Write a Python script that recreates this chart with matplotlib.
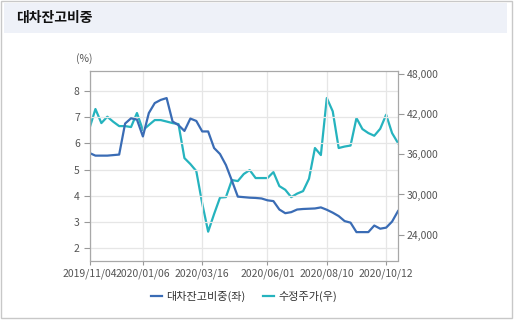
import matplotlib
matplotlib.use("Agg")
import matplotlib.pyplot as plt
import matplotlib.patches as mpatches

plt.rcParams["font.family"] = ["Noto Sans CJK KR", "DejaVu Sans"]

# weekly points, index 0 = 2019/11/04
LOAN_RATIO = [5.63, 5.53, 5.53, 5.53, 5.55, 5.57, 6.75, 6.95, 6.90, 6.26,
              7.15, 7.53, 7.65, 7.72, 6.83, 6.69, 6.47, 6.94, 6.85, 6.45,
              6.45, 5.82, 5.59, 5.17, 4.58, 3.97, 3.95, 3.93, 3.92, 3.90,
              3.83, 3.80, 3.48, 3.34, 3.38, 3.48, 3.50, 3.51, 3.52, 3.56,
              3.47, 3.36, 3.23, 3.04, 2.98, 2.62, 2.62, 2.62, 2.87, 2.75,
              2.79, 3.02, 3.42]
ADJ_PRICE = [39870, 42750, 40650, 41600, 40850, 40200, 40200, 40060, 42150, 39600,
             40360, 41100, 41100, 40880, 40650, 40500, 35430, 34540, 33490, 28660,
             24450, 27080, 29540, 29610, 32150, 32000, 33050, 33640, 32450, 32450,
             32450, 33340, 31250, 30700, 29600, 30130, 30500, 32350, 36930, 35880,
             44390, 42400, 36930, 37150, 37300, 41400, 39760, 39160, 38760, 39800,
             41900, 39160, 37670]
TICK_IDX = [0, 9, 19, 30, 40, 50]
TICK_LABELS = ["2019/11/04", "2020/01/06", "2020/03/16", "2020/06/01",
               "2020/08/10", "2020/10/12"]
LEFT_TICKS = [2, 3, 4, 5, 6, 7, 8]
RIGHT_TICKS = [24000, 30000, 36000, 42000, 48000]

BLUE = "#3a6cb5"
TEAL = "#25b3be"
GRID = "#e6e6e6"
TXT = "#555555"

W, H = 514, 322


def fx(x):
    return x / W


def fy(y):
    return 1 - y / H


fig = plt.figure(figsize=(W / 100, H / 100), dpi=100)

# outer frame and title bar
fig.add_artist(mpatches.Rectangle((fx(0.5), fy(317.5)), fx(511), 317 / H,
                                  fill=False, ec="#c8c8c8", lw=1))
fig.add_artist(mpatches.Rectangle((fx(4), fy(33)), fx(503), 30 / H,
                                  fc="#eef1f8", ec="none"))
fig.text(fx(16), fy(18), "대차잔고비중", fontsize=10, fontweight="bold",
         color="#111111", va="center", ha="left")

ax = fig.add_axes([fx(89.5), fy(260.5), fx(398 - 89.5), (260.5 - 71) / H])
x = list(range(len(LOAN_RATIO)))

ax.set_xlim(0, 52)
ax.set_ylim(1.54, 8.75)
ax.set_yticks(LEFT_TICKS)
ax.set_xticks(TICK_IDX)
ax.set_xticklabels(TICK_LABELS)
ax.grid(True, color=GRID, lw=0.9)
ax.set_axisbelow(True)
for s in ax.spines.values():
    s.set_color("#a8a8a8")
    s.set_linewidth(0.9)
ax.tick_params(axis="y", length=4, color="#999999", labelsize=7.5,
               labelcolor=TXT, pad=3)
ax.tick_params(axis="x", length=3, color="#999999", labelsize=7.5,
               labelcolor=TXT, pad=3)

ax2 = ax.twinx()
ax2.set_ylim(20150, 48420)
ax2.set_yticks(RIGHT_TICKS)
ax2.set_yticklabels([f"{v:,}" for v in RIGHT_TICKS])
ax2.tick_params(axis="y", length=4, color="#999999", labelsize=7.5,
                labelcolor=TXT, pad=2)
for s in ax2.spines.values():
    s.set_visible(False)

l2, = ax2.plot(x, ADJ_PRICE, color=TEAL, lw=1.6, solid_joinstyle="round")
l1, = ax2.plot([], [], color=BLUE, lw=1.6)
ax.set_zorder(ax2.get_zorder() + 1)
ax.patch.set_visible(False)
ax.plot(x, LOAN_RATIO, color=BLUE, lw=1.6, solid_joinstyle="round")

fig.text(fx(84), fy(59), "(%)", fontsize=7.5, color=TXT, ha="center", va="center")

fig.legend([l1, l2], ["대차잔고비중(좌)", "수정주가(우)"], loc="center",
           bbox_to_anchor=(fx(244), fy(296)), ncol=2, frameon=False,
           fontsize=8, handlelength=1.0, handletextpad=0.4, columnspacing=1.6,
           labelcolor="#333333")

fig.savefig("out.png", dpi=100)
